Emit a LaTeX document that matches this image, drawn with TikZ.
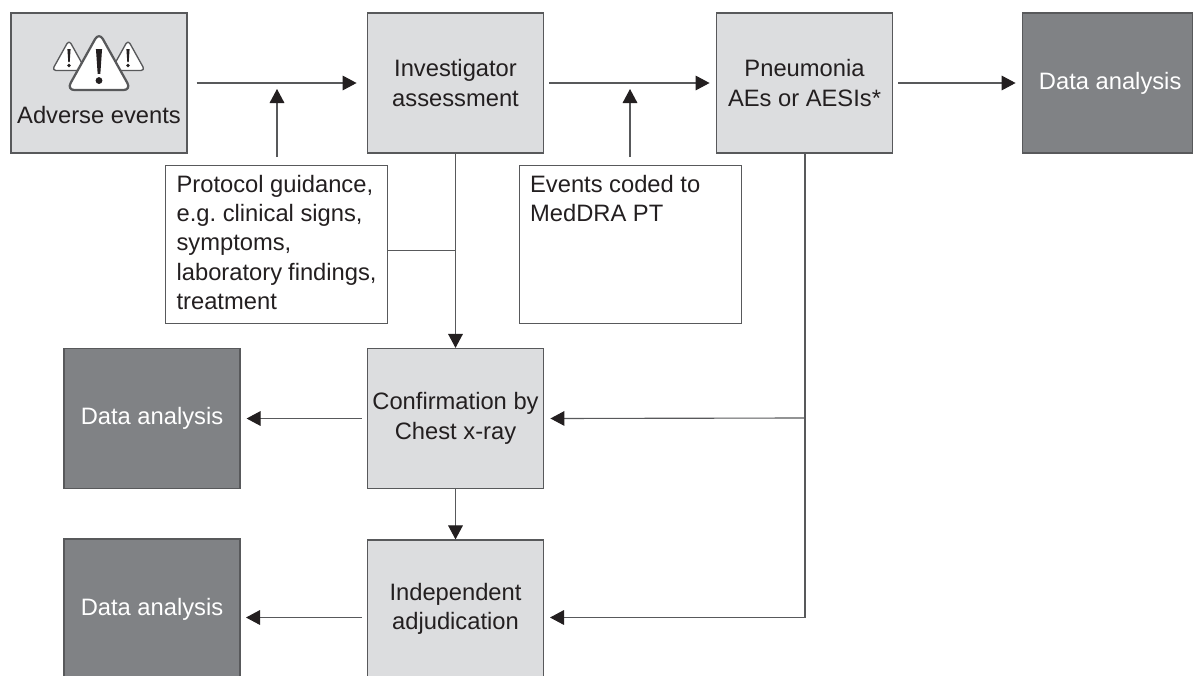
\documentclass[tikz,border=0pt]{standalone}
\usepackage{fontspec}
\setmainfont{Liberation Sans}
\usetikzlibrary{arrows.meta}
\definecolor{lightbox}{HTML}{DCDDDF}
\definecolor{darkbox}{HTML}{808285}
\definecolor{edgegrey}{HTML}{58595B}
\definecolor{inktext}{HTML}{231F20}
\newcommand{\warnicon}[5]{%
 \begin{scope}[shift={(#1,#2)},scale=#3]
  \draw[edgegrey,fill=white,line width=#4,line join=round,rounded corners=#5] (0,-32) -- (34,29) -- (-34,29) -- cycle;
  \fill[inktext] (-3.2,-14) -- (3.2,-14) -- (1.4,12) -- (-1.4,12) -- cycle;
  \fill[inktext] (0,19) circle (3.6);
 \end{scope}}
\newcommand{\notetext}[1]{\parbox[c][110pt][t]{150pt}{\raggedright\frenchspacing\rule{0pt}{15.75pt}#1}}
\tikzset{
 x=0.75pt,y=-0.75pt,
 every node/.style={font=\fontsize{17.8}{22}\selectfont,text=inktext,align=center,inner sep=0pt},
 lightnode/.style={draw=edgegrey,fill=lightbox,line width=0.9pt,minimum width=132.5pt,minimum height=105pt},
 darknode/.style={draw=edgegrey,fill=darkbox,line width=0.9pt,text=white,minimum width=132pt,minimum height=105pt},
 notebox/.style={draw=edgegrey,fill=white,line width=0.9pt,align=left,anchor=north west,inner xsep=8.25pt,inner ysep=4.25pt},
 conn/.style={draw=edgegrey,line width=0.85pt},
 arrow/.style={conn,-{Triangle[length=10.5pt,width=11pt,color=inktext]}},
}
\begin{document}
\begin{tikzpicture}
\useasboundingbox (0,0) rectangle (1194,675);
\clip (0,0) rectangle (1194,675);
% boxes
\node[lightnode,minimum width=132pt] (ae) at (99,83) {};
\node[lightnode] (inv) at (455.5,83) {Investigator\\assessment};
\node[lightnode] (pn) at (804.5,83) {Pneumonia\\AEs or AESIs*};
\node[darknode,minimum width=128pt] (da1) at (1107.5,83) {\hspace*{4pt}Data analysis};
\node[lightnode] (conf) at (455.5,418.5) {Confirmation by\\Chest x-ray};
\node[darknode] (da2) at (152,418.5) {Data analysis};
\node[lightnode,minimum height=150pt] (adj) at (455.5,640) {};
\node[darknode,minimum height=105pt] (da3) at (152,609) {Data analysis};
\node (adjt) at (455.5,609) {Independent\\adjudication};
% icon and its caption
\warnicon{69}{56}{0.5}{1.0pt}{3pt}
\warnicon{128}{56}{0.5}{1.0pt}{3pt}
\warnicon{99}{62.5}{0.95}{1.7pt}{6pt}
\node (aet) at (99,115) {Adverse events};
% notes
\node[notebox] (prot) at (165,165)
 {\notetext{Protocol guidance,\\e.g. clinical signs,\\symptoms,\\laboratory findings,\\treatment}};
\node[notebox] (ev) at (518.5,165)
 {\notetext{Events coded to\\MedDRA PT}};
% free-end coordinates
\coordinate (j1) at (277,89);
\coordinate (j2) at (630,89);
\coordinate (u1) at (277,157);
\coordinate (u2) at (630,157);
\coordinate (p1) at (455,250.5);
\coordinate (c1) at (805,418);
\coordinate (c2) at (805,617.5);
\coordinate (adjin) at (544,617.5);
\coordinate (dain) at (240,617.5);
\coordinate (adjout) at (367,617.5);
% connectors
\draw[arrow,shorten <=6.75pt,shorten >=7.5pt] (ae.east) -- (inv.west);
\draw[arrow,shorten <=3.75pt,shorten >=4.5pt] (inv.east) -- (pn.west);
\draw[arrow,shorten <=3.75pt,shorten >=4.5pt] (pn.east) -- (da1.west);
\draw[arrow] (u1) -- (j1);
\draw[arrow] (u2) -- (j2);
\draw[arrow] (inv.south) -- (conf.north);
\draw[conn] (prot.east|-p1) -- (p1);
\draw[arrow] (conf.south) -- (adj.north);
\draw[arrow,shorten <=3.75pt,shorten >=4.5pt] (conf.west) -- (da2.east);
\draw[arrow,shorten <=3.75pt,shorten >=4.5pt] (adjout) -- (dain);
\draw[conn] (pn.south-|c1) -- (c2);
\draw[arrow,shorten >=4.5pt] (c1) -- (conf.east);
\draw[arrow,shorten >=4.5pt] (c2) -- (adjin);
\end{tikzpicture}
\end{document}
